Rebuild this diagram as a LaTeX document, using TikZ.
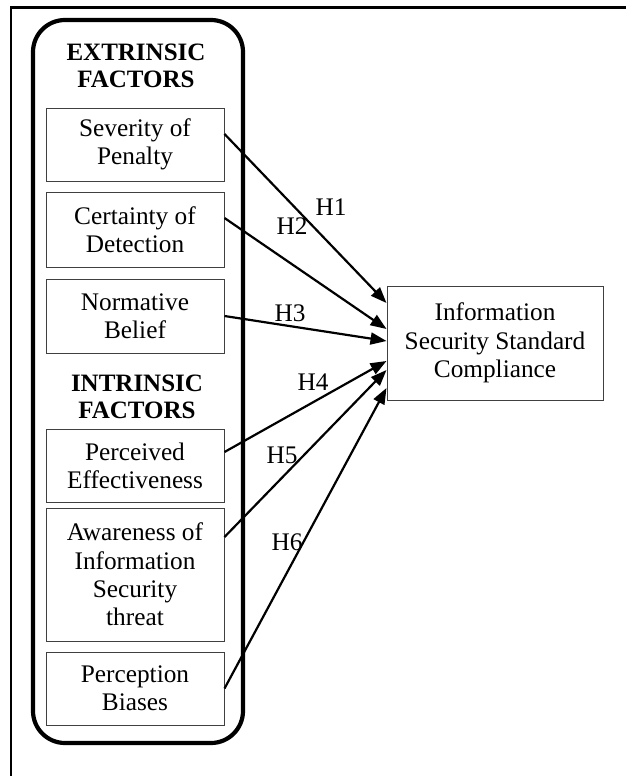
\documentclass[tikz,border=0pt]{standalone}
\usepackage{fontspec}
\setmainfont{Liberation Serif}
\usetikzlibrary{arrows.meta,positioning,calc}

\begin{document}
\begin{tikzpicture}[x=1pt,y=-1pt,
  font=\fontsize{25.3}{28.3}\selectfont,
  factor/.style={draw=black!75, line width=1pt, minimum width=178pt, inner sep=0pt, align=center},
  head/.style={font=\fontsize{25}{27}\selectfont\bfseries, align=center},
  hyp/.style={draw, line width=2.2pt, -{Triangle[length=16pt,width=12pt]}},
  hlabel/.style={inner sep=0pt},
]
\useasboundingbox (0,0) rectangle (625,776);
\fill[white] (0,0) rectangle (625,776);
\draw[line width=2.2pt] (11,7.5) rectangle (640,800);
% factor groups
\draw[line width=4.2pt, rounded corners=32pt] (33,20) rectangle (243,743);
\node[head] (ext) at (136,66) {EXTRINSIC\\FACTORS};
\node[factor, minimum height=73pt] (sev) at (135,144.5) {Severity of\\Penalty};
\node[factor, minimum height=75pt] (cert) at (135,229.5) {Certainty of\\Detection};
\node[factor, minimum height=74pt] (norm) at (135,316) {Normative\\Belief};
\node[head] (int) at (137,397) {INTRINSIC\\FACTORS};
\node[factor, minimum height=73pt] (perc) at (135,465.5) {Perceived\\Effectiveness};
\node[factor, minimum height=133pt] (aware) at (135,574.5) {Awareness of\\Information\\Security\\threat};
\node[factor, minimum height=73pt] (bias) at (135,688.5) {Perception\\Biases};
% outcome
\node[factor, minimum width=216pt, minimum height=114pt] (isc) at (495,343) {Information\\Security Standard\\Compliance};
% hypotheses
\draw[hyp] ([yshift=10.5pt]sev.east) -- ([yshift=40pt]isc.west);
\draw[hyp] ([yshift=11.5pt]cert.east) -- ([yshift=14pt]isc.west);
\draw[hyp] (norm.east) -- ([yshift=2pt]isc.west);
\draw[hyp] ([yshift=13.5pt]perc.east) -- ([yshift=-18pt]isc.west);
\draw[hyp] ([yshift=37.5pt]aware.east) -- ([yshift=-27pt]isc.west);
\draw[hyp] (bias.east) -- ([yshift=-45pt]isc.west);
\node[hlabel] (h1) at (331,207) {H1};
\node[hlabel] (h2) at (292,226) {H2};
\node[hlabel] (h3) at (290,313) {H3};
\node[hlabel] (h4) at (313,382) {H4};
\node[hlabel] (h5) at (282,455) {H5};
\node[hlabel] (h6) at (287,542) {H6};
\end{tikzpicture}
\end{document}
